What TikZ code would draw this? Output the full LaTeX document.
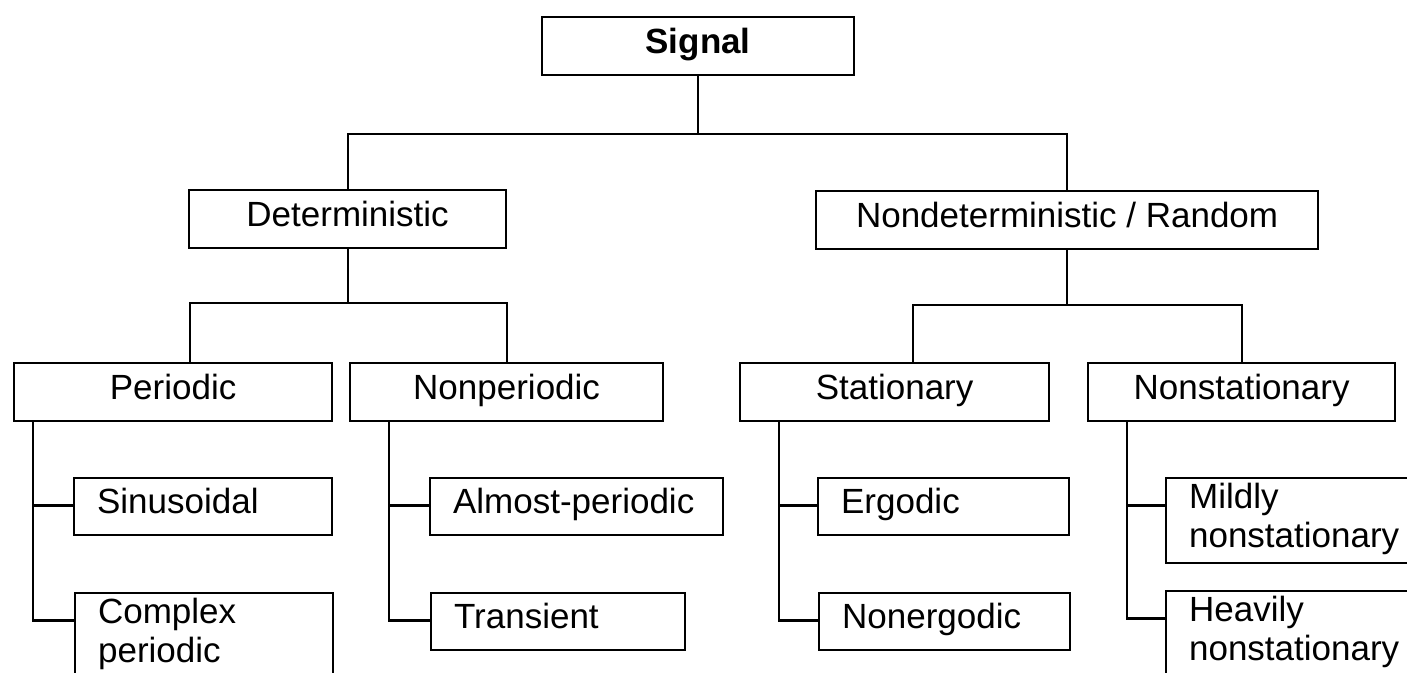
\documentclass[tikz,border=0pt]{standalone}
\usepackage{fontspec}
\setmainfont{Liberation Sans}
\begin{document}
\begin{tikzpicture}[x=0.5pt,y=-0.5pt,line width=1.1pt,
    every node/.style={font=\fontsize{17.5}{19.5}\selectfont},
    topbox/.style={draw,anchor=north west,inner sep=0pt,minimum height=29pt,
      text height=12.6pt,text depth=5.5pt},
    leafbox/.style={draw,anchor=north west,inner ysep=0pt,inner xsep=11.5pt,
      align=left,minimum height=28.5pt,text height=12.6pt,text depth=5.5pt},
    twoline/.style={text depth=25pt}]
  \useasboundingbox (0,0) rectangle (1407,673);
  \clip (0,0) rectangle (1407,673);
  % boxes
  \node[topbox,minimum width=156pt,font=\fontsize{17.5}{19.5}\selectfont\bfseries] (sig) at (541,16) {Signal};
  \node[topbox,minimum width=158.5pt] (det) at (188,189) {Deterministic};
  \node[topbox,minimum width=251pt] (rnd) at (815,190) {Nondeterministic / Random};
  \node[topbox,minimum width=159pt] (per) at (13,362) {Periodic};
  \node[topbox,minimum width=156.5pt] (nper) at (349,362) {Nonperiodic};
  \node[topbox,minimum width=154.5pt] (stat) at (739,362) {Stationary};
  \node[topbox,minimum width=153.5pt] (nstat) at (1087,362) {Nonstationary};
  \node[leafbox,text width=106pt] (sin) at (73,477) {Sinusoidal};
  \node[leafbox,twoline,text width=106pt,minimum height=43pt] (cper) at (74,592) {Complex\\periodic};
  \node[leafbox,text width=123.5pt] (alm) at (429,477) {Almost-periodic};
  \node[leafbox,text width=104pt] (trn) at (430,592) {Transient};
  \node[leafbox,text width=102.5pt] (erg) at (817,477) {Ergodic};
  \node[leafbox,text width=102.5pt] (nerg) at (818,592) {Nonergodic};
  \node[leafbox,twoline,text width=107pt,minimum height=42.5pt] (mild) at (1165,477) {Mildly\\nonstationary};
  \node[leafbox,twoline,text width=107pt,minimum height=43pt] (heav) at (1165,590) {Heavily\\nonstationary};
  % buses
  \coordinate (b0) at (0,134);
  \coordinate (b1) at (190,303);
  \coordinate (b2) at (913,305);
  \draw (sig.south) -- (sig.south |- b0);
  \draw (det.north) |- (b0 -| rnd.north) -- (rnd.north);
  \draw (det.south) -- (det.south |- b1);
  \draw (per.north -| b1) |- (b1 -| nper.north) -- (nper.north);
  \draw (rnd.south) -- (rnd.south |- b2);
  \draw (stat.north -| b2) |- (b2 -| nstat.north) -- (nstat.north);
  % leaves
  \foreach \p/\dx/\a/\b in {per/10/sin/cper, nper/20/alm/trn, stat/20/erg/nerg, nstat/20/mild/heav}
  {
    \draw ([xshift=\dx pt]\p.south west) coordinate (s) |- ([yshift=-14.25pt]\b.north west);
    \draw (s) |- ([yshift=-14.25pt]\a.north west);
  }
\end{tikzpicture}
\end{document}
